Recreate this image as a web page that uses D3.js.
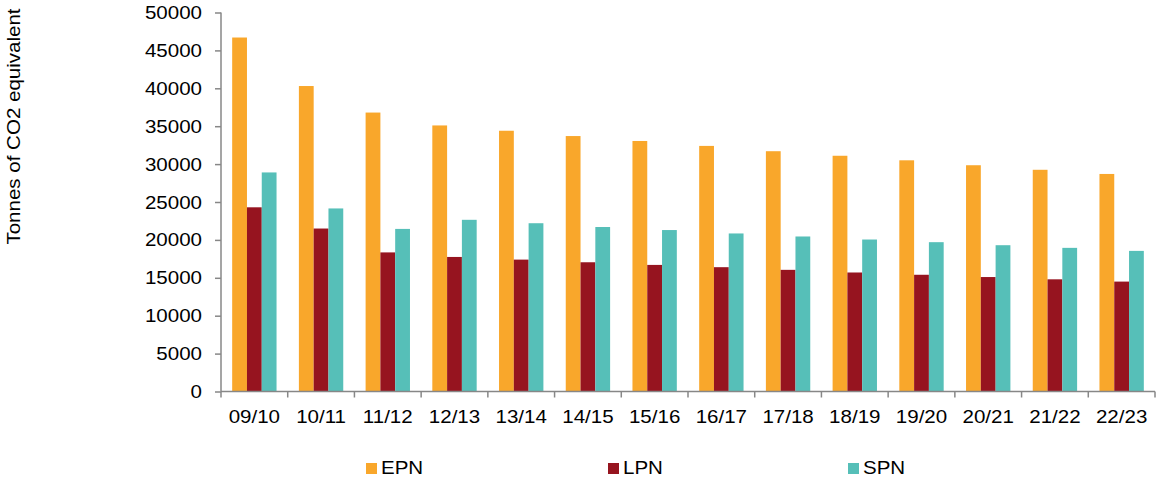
<!DOCTYPE html>
<html>
<head>
<meta charset="utf-8">
<script src="https://cdn.jsdelivr.net/npm/d3@7"></script>
<style>
  html, body { margin: 0; padding: 0; background: #fff; }
  svg { display: block; font-family: "Liberation Sans", Arial, sans-serif; }
</style>
</head>
<body>
<svg id="chart" width="1157" height="477"></svg>
<script>
// Data
const YEARS = ["09/10", "10/11", "11/12", "12/13", "13/14", "14/15", "15/16",
               "16/17", "17/18", "18/19", "19/20", "20/21", "21/22", "22/23"];
const SERIES = ["EPN", "LPN", "SPN"];
const EPN = [46700, 40300, 36800, 35100, 34400, 33700, 33050, 32400, 31700, 31100, 30500, 29850, 29250, 28700];
const LPN = [24300, 21500, 18350, 17750, 17400, 17050, 16700, 16400, 16050, 15700, 15400, 15100, 14800, 14500];
const SPN = [28900, 24150, 21450, 22650, 22200, 21700, 21300, 20850, 20450, 20050, 19700, 19300, 18950, 18550];
const Y_TICKS = [0, 5000, 10000, 15000, 20000, 25000, 30000, 35000, 40000, 45000, 50000];

const COLORS = { EPN: "#f9a72b", LPN: "#96141f", SPN: "#56bfb8" };
const AXIS_COLOR = "#878787";
const FONT_SIZE = 19;
const STRETCH = 1.08;

const rows = YEARS.map((yr, i) => ({ yr, EPN: EPN[i], LPN: LPN[i], SPN: SPN[i] }));

const svg = d3.select("#chart");

// plot box
const plotLeft = 221, plotRight = 1155, plotTop = 12.5, plotBottom = 391.5;

const x0 = d3.scaleBand()
  .domain(YEARS)
  .range([plotLeft, plotRight])
  .paddingInner(0.335)
  .paddingOuter(0.1675);

const x1 = d3.scaleBand()
  .domain(SERIES)
  .range([0, x0.bandwidth()]);

const y = d3.scaleLinear()
  .domain([0, 50000])
  .range([plotBottom, plotTop]);

// stretch text a little so widths match the reference renderer
function stretch(sel, k) {
  sel.each(function() {
    const len = this.getComputedTextLength();
    this.setAttribute("textLength", len * k);
    this.setAttribute("lengthAdjust", "spacingAndGlyphs");
  });
}

// Bars
const groups = svg.append("g")
  .selectAll("g")
  .data(rows)
  .join("g")
  .attr("transform", d => `translate(${x0(d.yr)},0)`);

groups.selectAll("rect")
  .data(d => SERIES.map(key => ({ key, value: d[key] })))
  .join("rect")
  .attr("x", d => x1(d.key))
  .attr("y", d => y(d.value))
  .attr("width", x1.bandwidth())
  .attr("height", d => plotBottom - y(d.value))
  .attr("fill", d => COLORS[d.key]);

// Y axis
const yAxis = svg.append("g")
  .attr("transform", `translate(${plotLeft},0)`)
  .call(d3.axisLeft(y).tickValues(Y_TICKS).tickFormat(d3.format("d")).tickSize(6).tickPadding(13))
  .call(g => g.select(".domain").attr("stroke", AXIS_COLOR).attr("stroke-width", 1.5)
    .attr("d", `M0,${plotTop}V${plotBottom}`))
  .call(g => g.selectAll(".tick line").attr("stroke", AXIS_COLOR).attr("stroke-width", 1.5))
  .call(g => g.selectAll(".tick text")
    .attr("fill", "#000")
    .attr("font-size", FONT_SIZE)
    .attr("font-family", "Liberation Sans, Arial, sans-serif"));
stretch(yAxis.selectAll(".tick text"), STRETCH);

// X axis: ticks between categories
const xAxisG = svg.append("g").attr("transform", `translate(0,${plotBottom})`);
xAxisG.append("path")
  .attr("d", `M${plotLeft},0H${plotRight}`)
  .attr("stroke", AXIS_COLOR)
  .attr("stroke-width", 1.5)
  .attr("fill", "none");

const boundaries = YEARS.map(yr => x0(yr) - x0.step() * x0.paddingInner() / 2)
  .concat([plotRight]);
xAxisG.selectAll("line.sep")
  .data(boundaries)
  .join("line")
  .attr("class", "sep")
  .attr("x1", d => d).attr("x2", d => d)
  .attr("y1", 0).attr("y2", 6)
  .attr("stroke", AXIS_COLOR)
  .attr("stroke-width", 1.5);

const xLabels = xAxisG.selectAll("text")
  .data(YEARS)
  .join("text")
  .attr("x", d => x0(d) + x0.bandwidth() / 2)
  .attr("y", 31.5)
  .attr("text-anchor", "middle")
  .attr("font-size", FONT_SIZE)
  .attr("fill", "#000")
  .text(d => d);
stretch(xLabels, STRETCH);

// Y axis title
const yTitle = svg.append("text")
  .attr("transform", "translate(20,126.5) rotate(-90)")
  .attr("text-anchor", "middle")
  .attr("font-size", FONT_SIZE)
  .attr("fill", "#000")
  .text("Tonnes of CO2 equivalent");
stretch(yTitle, STRETCH);

// Legend
const legendX = [366, 608, 848];
const legend = svg.append("g")
  .selectAll("g")
  .data(SERIES)
  .join("g")
  .attr("transform", (d, i) => `translate(${legendX[i]},463)`);

legend.append("rect")
  .attr("width", 11)
  .attr("height", 11)
  .attr("fill", d => COLORS[d]);

const legendText = legend.append("text")
  .attr("x", 15)
  .attr("y", 11)
  .attr("font-size", FONT_SIZE)
  .attr("fill", "#000")
  .text(d => d);
stretch(legendText, STRETCH);
</script>
</body>
</html>
